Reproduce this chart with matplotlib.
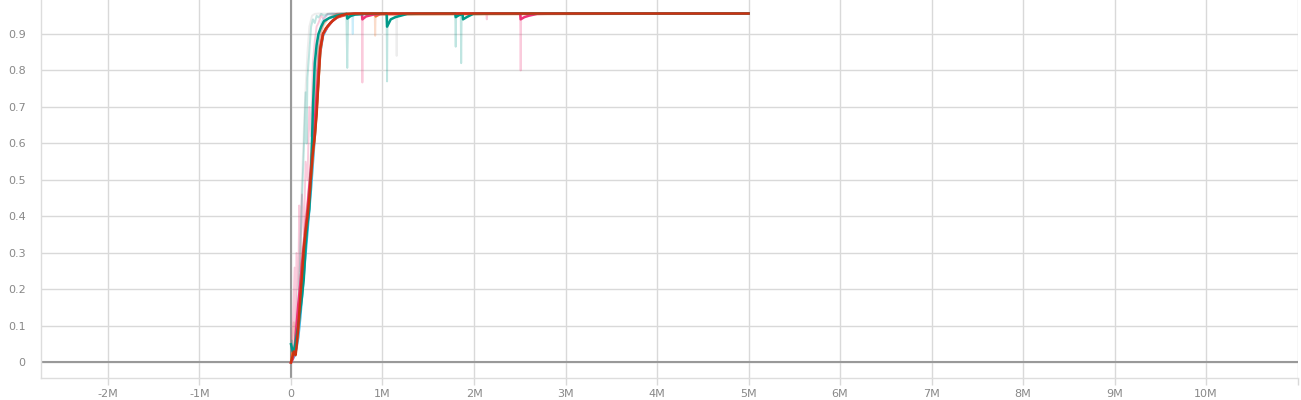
import matplotlib
matplotlib.use("Agg")
import matplotlib.pyplot as plt
from matplotlib.ticker import FixedLocator

# ---- data (x in millions of steps) ----
teal_raw_x = [0, 0.01, 0.02, 0.04, 0.06, 0.08, 0.10, 0.12, 0.14, 0.16, 0.17, 0.18, 0.20, 0.22, 0.24, 0.26, 0.28, 0.30, 0.33, 0.36, 0.40, 0.45, 0.50, 0.55, 0.605, 0.615, 0.625, 0.70, 0.8, 1.0, 1.045, 1.05, 1.055, 1.2, 1.5, 1.795, 1.80, 1.805, 1.855, 1.86, 1.865, 2.0, 3.0, 4.0, 5.0]
teal_raw_y = [0.0, 0.06, 0.02, 0.05, 0.10, 0.15, 0.28, 0.45, 0.58, 0.74, 0.60, 0.78, 0.85, 0.92, 0.94, 0.93, 0.95, 0.945, 0.955, 0.95, 0.955, 0.956, 0.955, 0.956, 0.956, 0.807, 0.956, 0.956, 0.956, 0.956, 0.956, 0.77, 0.956, 0.956, 0.956, 0.956, 0.865, 0.956, 0.956, 0.82, 0.956, 0.956, 0.956, 0.956, 0.956]

gray_raw_x = [0, 0.03, 0.06, 0.09, 0.12, 0.15, 0.18, 0.20, 0.23, 0.26, 0.30, 0.40, 1.15, 1.155, 1.16, 5.0]
gray_raw_y = [0.0, 0.05, 0.15, 0.30, 0.50, 0.70, 0.85, 0.92, 0.95, 0.955, 0.956, 0.956, 0.956, 0.84, 0.956, 0.956]

pink_raw_x = [0, 0.02, 0.04, 0.05, 0.06, 0.08, 0.09, 0.10, 0.12, 0.14, 0.16, 0.18, 0.20, 0.22, 0.24, 0.26, 0.28, 0.30, 0.33, 0.36, 0.40, 0.50, 0.60, 0.775, 0.78, 0.785, 1.5, 2.135, 2.14, 2.145, 2.505, 2.51, 2.515, 3.0, 5.0]
pink_raw_y = [0.0, 0.10, 0.26, 0.05, 0.30, 0.20, 0.43, 0.25, 0.46, 0.35, 0.55, 0.50, 0.70, 0.62, 0.82, 0.88, 0.92, 0.93, 0.95, 0.94, 0.955, 0.956, 0.956, 0.956, 0.767, 0.956, 0.956, 0.956, 0.94, 0.956, 0.956, 0.80, 0.956, 0.956, 0.956]

cyan_raw_x = [0, 0.03, 0.06, 0.09, 0.12, 0.15, 0.18, 0.21, 0.24, 0.27, 0.30, 0.33, 0.36, 0.40, 0.50, 0.60, 0.67, 0.675, 0.68, 5.0]
cyan_raw_y = [0.0, 0.02, 0.08, 0.12, 0.22, 0.30, 0.42, 0.50, 0.62, 0.78, 0.88, 0.93, 0.945, 0.952, 0.955, 0.956, 0.956, 0.90, 0.956, 0.956]

orange_raw_x = [0, 0.03, 0.06, 0.09, 0.12, 0.15, 0.18, 0.21, 0.24, 0.27, 0.30, 0.35, 0.40, 0.50, 0.915, 0.92, 0.925, 5.0]
orange_raw_y = [0.0, 0.11, 0.05, 0.12, 0.20, 0.32, 0.40, 0.50, 0.62, 0.75, 0.85, 0.92, 0.94, 0.955, 0.956, 0.895, 0.956, 0.956]

red_raw_x = [0, 0.02, 0.04, 0.06, 0.08, 0.10, 0.12, 0.14, 0.16, 0.18, 0.20, 0.22, 0.24, 0.26, 0.28, 0.30, 0.33, 0.36, 0.40, 0.45, 0.50, 0.60, 5.0]
red_raw_y = [0.0, 0.04, 0.02, 0.08, 0.14, 0.22, 0.30, 0.34, 0.40, 0.44, 0.50, 0.58, 0.64, 0.70, 0.78, 0.86, 0.91, 0.93, 0.94, 0.95, 0.955, 0.956, 0.956]

teal_x = [0, 0.02, 0.04, 0.06, 0.08, 0.10, 0.12, 0.14, 0.16, 0.18, 0.20, 0.22, 0.24, 0.26, 0.28, 0.30, 0.33, 0.36, 0.42, 0.50, 0.55, 0.61, 0.615, 0.65, 0.70, 0.80, 1.0, 1.045, 1.05, 1.09, 1.14, 1.2, 1.27, 1.6, 1.795, 1.80, 1.84, 1.875, 1.88, 1.92, 1.99, 2.5, 3.0, 4.0, 5.0]
teal_y = [0.05, 0.03, 0.04, 0.07, 0.10, 0.14, 0.18, 0.23, 0.32, 0.38, 0.42, 0.52, 0.70, 0.82, 0.87, 0.90, 0.92, 0.935, 0.944, 0.950, 0.953, 0.955, 0.942, 0.949, 0.953, 0.955, 0.956, 0.956, 0.92, 0.94, 0.946, 0.950, 0.955, 0.956, 0.956, 0.946, 0.952, 0.954, 0.94, 0.946, 0.955, 0.956, 0.956, 0.956, 0.956]

magenta_x = [0, 0.02, 0.04, 0.06, 0.08, 0.10, 0.12, 0.14, 0.16, 0.18, 0.20, 0.22, 0.24, 0.26, 0.28, 0.30, 0.32, 0.35, 0.40, 0.45, 0.50, 0.55, 0.60, 0.70, 0.775, 0.78, 0.82, 0.90, 1.0, 2.0, 2.505, 2.51, 2.55, 2.60, 2.69, 3.0, 5.0]
magenta_y = [0.0, 0.01, 0.04, 0.10, 0.16, 0.21, 0.27, 0.32, 0.37, 0.42, 0.48, 0.54, 0.60, 0.66, 0.73, 0.80, 0.86, 0.90, 0.92, 0.935, 0.945, 0.950, 0.953, 0.955, 0.955, 0.94, 0.948, 0.953, 0.955, 0.956, 0.956, 0.94, 0.946, 0.950, 0.955, 0.956, 0.956]

cyan_x = [0, 0.02, 0.04, 0.06, 0.08, 0.10, 0.12, 0.14, 0.16, 0.18, 0.20, 0.22, 0.24, 0.26, 0.28, 0.30, 0.32, 0.35, 0.40, 0.45, 0.50, 0.55, 0.60, 0.70, 5.0]
cyan_y = [0.0, 0.01, 0.02, 0.04, 0.07, 0.12, 0.18, 0.24, 0.30, 0.36, 0.42, 0.48, 0.55, 0.62, 0.70, 0.78, 0.85, 0.895, 0.92, 0.935, 0.945, 0.950, 0.953, 0.955, 0.956]

orange_x = [0, 0.02, 0.04, 0.06, 0.08, 0.10, 0.12, 0.14, 0.16, 0.18, 0.20, 0.22, 0.24, 0.26, 0.28, 0.30, 0.32, 0.35, 0.40, 0.45, 0.50, 0.60, 0.70, 0.92, 0.925, 0.97, 5.0]
orange_y = [0.0, 0.03, 0.04, 0.05, 0.09, 0.15, 0.22, 0.28, 0.34, 0.39, 0.45, 0.51, 0.57, 0.62, 0.69, 0.77, 0.85, 0.90, 0.92, 0.935, 0.945, 0.952, 0.955, 0.955, 0.948, 0.954, 0.956]

red_x = [0, 0.02, 0.03, 0.05, 0.06, 0.08, 0.10, 0.12, 0.14, 0.16, 0.18, 0.20, 0.22, 0.24, 0.26, 0.28, 0.30, 0.32, 0.35, 0.38, 0.43, 0.46, 0.51, 0.55, 0.61, 0.70, 1.0, 2.0, 3.0, 4.0, 5.0]
red_y = [0.0, 0.02, 0.03, 0.02, 0.04, 0.10, 0.17, 0.24, 0.31, 0.36, 0.40, 0.45, 0.52, 0.58, 0.62, 0.68, 0.77, 0.86, 0.90, 0.915, 0.93, 0.937, 0.947, 0.951, 0.955, 0.956, 0.956, 0.956, 0.956, 0.956, 0.956]

xticks = [-2, -1, 0, 1, 2, 3, 4, 5, 6, 7, 8, 9, 10, 11]
xtick_labels = ["-2M", "-1M", "0", "1M", "2M", "3M", "4M", "5M", "6M", "7M", "8M", "9M", "10M", ""]
yticks = [0, 0.1, 0.2, 0.3, 0.4, 0.5, 0.6, 0.7, 0.8, 0.9]
ytick_labels = ["0", "0.1", "0.2", "0.3", "0.4", "0.5", "0.6", "0.7", "0.8", "0.9"]

TEAL, RED, MAGENTA, CYAN, ORANGE, GRAY = "#009988", "#cc3311", "#ee3377", "#33bbee", "#ee7733", "#bbbbbb"

plt.rcParams['font.family'] = ['DejaVu Sans']
fig = plt.figure(figsize=(13.01, 4.0), dpi=100)
ax = fig.add_axes([41/1301, 22/400, (1298-41)/1301, 378/400])

ax.set_xlim(-2.732, 11.005)
ax.set_ylim(-0.0425, 0.993)

ax.xaxis.set_major_locator(FixedLocator(xticks))
ax.set_xticklabels(xtick_labels)
ax.set_yticks(yticks)
ax.set_yticklabels(ytick_labels)

ax.grid(True, color="#d9d9d9", linewidth=1.0, zorder=0)
ax.set_axisbelow(True)
for s in ["top", "right"]:
    ax.spines[s].set_visible(False)
for s in ["bottom", "left"]:
    ax.spines[s].set_color("#dddddd")
    ax.spines[s].set_linewidth(1.0)
ax.tick_params(axis="x", colors="#d9d9d9", length=5, width=1, labelcolor="#888888", labelsize=8, pad=3)
ax.tick_params(axis="y", length=0, labelcolor="#888888", labelsize=8, pad=11)

ax.axhline(0, color="#999999", linewidth=1.5, zorder=1)
ax.axvline(0, color="#999999", linewidth=1.5, zorder=1)

raw_kw = dict(linewidth=1.4, alpha=0.25, zorder=2)
ax.plot(gray_raw_x, gray_raw_y, color=GRAY, **raw_kw)
ax.plot(cyan_raw_x, cyan_raw_y, color=CYAN, **raw_kw)
ax.plot(orange_raw_x, orange_raw_y, color=ORANGE, **raw_kw)
ax.plot(pink_raw_x, pink_raw_y, color=MAGENTA, **raw_kw)
ax.plot(teal_raw_x, teal_raw_y, color=TEAL, **raw_kw)
ax.plot(red_raw_x, red_raw_y, color=RED, **raw_kw)

sm_kw = dict(linewidth=1.8, zorder=3, solid_joinstyle="round")
ax.plot(cyan_x, cyan_y, color=CYAN, **sm_kw)
ax.plot(orange_x, orange_y, color=ORANGE, **sm_kw)
ax.plot(magenta_x, magenta_y, color=MAGENTA, **sm_kw)
ax.plot(teal_x, teal_y, color=TEAL, **sm_kw)
ax.plot(red_x, red_y, color=RED, **sm_kw)

fig.savefig("out.png", dpi=100)
